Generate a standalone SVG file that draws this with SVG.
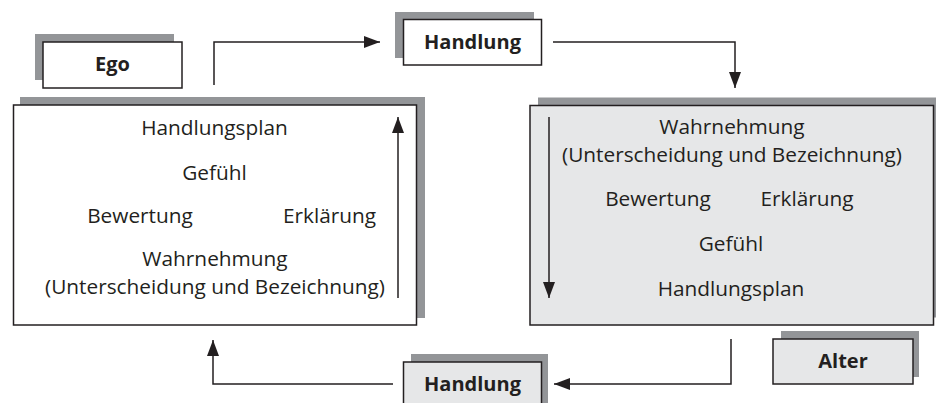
<svg xmlns="http://www.w3.org/2000/svg" width="936" height="403" viewBox="0 0 936 403">
<style>
.sh{fill:#939598;stroke:none}
.bw{fill:#ffffff;stroke:#231f20;stroke-width:1.5}
.bg{fill:#e6e7e8;stroke:#231f20;stroke-width:1.5}
.t{font-family:"Open Sans","Liberation Sans",sans-serif;font-size:20.8px;fill:#231f20;text-anchor:middle}
.b{font-family:"Open Sans","Liberation Sans",sans-serif;font-size:20px;font-weight:bold;fill:#231f20;text-anchor:middle}
.c{fill:none;stroke:#231f20;stroke-width:1.5}
</style>
<defs>
<marker id="ah" markerUnits="userSpaceOnUse" markerWidth="16" markerHeight="12" viewBox="0 0 16 12" refX="16" refY="6" orient="auto">
<path d="M0,0 L16,6 L0,12 Z" fill="#231f20"/>
</marker>
</defs>
<rect width="936" height="403" fill="#ffffff"/>
<g id="ego">
<rect class="sh" x="35" y="34" width="139" height="46"/>
<rect class="bw" x="43" y="42" width="139" height="46"/>
<text class="b" x="112.5" y="71">Ego</text>
</g>
<g id="handlung-top">
<rect class="sh" x="395" y="12" width="139" height="46"/>
<rect class="bw" x="403.5" y="19.5" width="138" height="45.5"/>
<text class="b" x="472.5" y="49">Handlung</text>
</g>
<g id="ego-box">
<rect class="sh" x="20" y="97" width="405" height="221"/>
<rect class="bw" x="13.5" y="105" width="403" height="220"/>
<text class="t" x="214.5" y="135">Handlungsplan</text>
<text class="t" x="214.5" y="180">Gefühl</text>
<text class="t" x="140" y="223">Bewertung</text>
<text class="t" x="329.5" y="223">Erklärung</text>
<text class="t" x="215" y="266">Wahrnehmung</text>
<text class="t" x="215" y="294">(Unterscheidung und Bezeichnung)</text>
</g>
<g id="alter-box">
<rect class="sh" x="538" y="97.5" width="402" height="220"/>
<rect class="bg" x="530" y="105.5" width="403.5" height="219.5"/>
<text class="t" x="732" y="134">Wahrnehmung</text>
<text class="t" x="732" y="162">(Unterscheidung und Bezeichnung)</text>
<text class="t" x="658" y="206">Bewertung</text>
<text class="t" x="807" y="206">Erklärung</text>
<text class="t" x="731" y="251">Gefühl</text>
<text class="t" x="731" y="296">Handlungsplan</text>
</g>
<g id="alter">
<rect class="sh" x="781" y="331" width="138" height="46"/>
<rect class="bg" x="773" y="339" width="140" height="45"/>
<text class="b" x="843" y="368">Alter</text>
</g>
<g id="handlung-bottom">
<rect class="sh" x="411" y="354" width="137" height="60"/>
<rect class="bg" x="403.5" y="362" width="138" height="50"/>
<text class="b" x="472.5" y="391">Handlung</text>
</g>
<g id="connectors">
<path class="c" d="M214,85 V42 H380" marker-end="url(#ah)"/>
<path class="c" d="M553,42 H735 V88" marker-end="url(#ah)"/>
<path class="c" d="M731,339 V384 H554" marker-end="url(#ah)"/>
<path class="c" d="M393,384 H213 V340" marker-end="url(#ah)"/>
<path class="c" d="M398,298 V117" marker-end="url(#ah)"/>
<path class="c" d="M549,117 V298" marker-end="url(#ah)"/>
</g>
</svg>
